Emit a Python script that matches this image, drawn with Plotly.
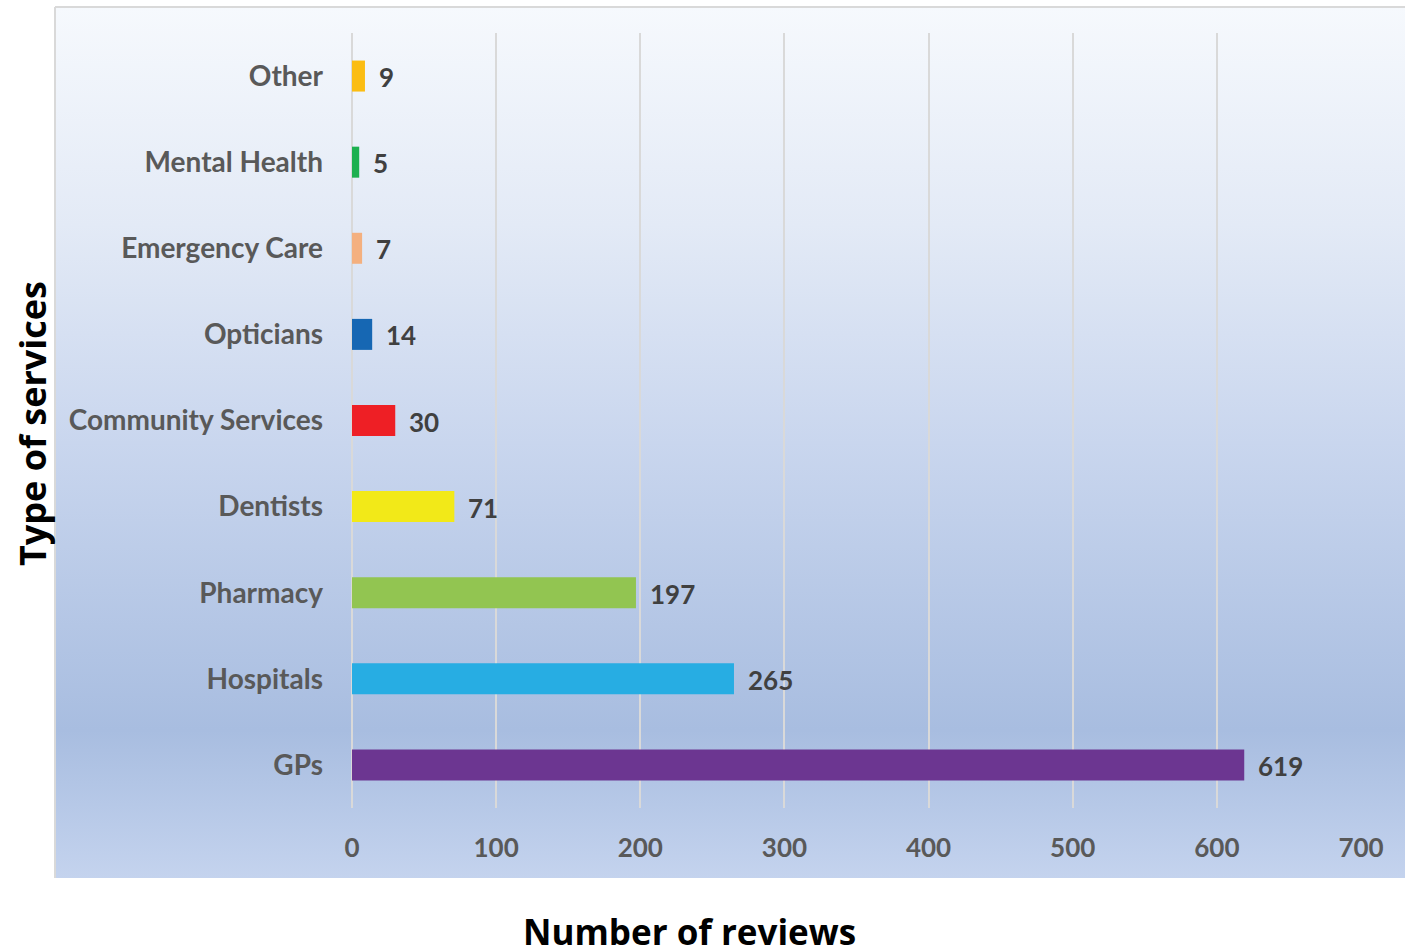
import base64
import plotly.graph_objects as go

# Review counts per type of service (bottom to top)
services = ["GPs", "Hospitals", "Pharmacy", "Dentists", "Community Services",
            "Opticians", "Emergency Care", "Mental Health", "Other"]
reviews = [619, 265, 197, 71, 30, 14, 7, 5, 9]
bar_colors = ["#6c3691", "#27ade3", "#92c551", "#f2e918", "#ee1f25",
              "#1667b3", "#f4b07f", "#1db04f", "#fbbd13"]
x_ticks = [0, 100, 200, 300, 400, 500, 600, 700]

W, H = 1405, 946
# plot area in pixels
L, R, T, B = 352, 1361, 33, 808
pw, ph = R - L, B - T


def px_x(p):
    return (p - L) / pw


def px_y(p):
    return (B - p) / ph


# soft vertical gradient for the chart panel
svg = """<svg xmlns='http://www.w3.org/2000/svg' width='100' height='100' preserveAspectRatio='none'>
<defs><linearGradient id='g' x1='0' y1='0' x2='0' y2='1'>
<stop offset='0' stop-color='#f6f9fd'/>
<stop offset='0.25' stop-color='#e3eaf6'/>
<stop offset='0.5' stop-color='#c9d6ee'/>
<stop offset='0.83' stop-color='#a8bde0'/>
<stop offset='1' stop-color='#c4d3ee'/>
</linearGradient></defs>
<rect width='100' height='100' fill='url(#g)'/></svg>"""
svg_uri = "data:image/svg+xml;base64," + base64.b64encode(svg.encode()).decode()

cat_font = dict(family="Lato", size=28, color="#595959")
num_font = dict(family="Lato", size=26, color="#595959")

fig = go.Figure(go.Bar(
    y=services, x=reviews, orientation="h",
    marker=dict(color=bar_colors, line=dict(width=0)),
    width=0.36, hoverinfo="x+y",
))

annotations = [
    dict(x=v, y=s, xref="x", yref="y", text=f"<b>{v}</b>", showarrow=False,
         xanchor="left", xshift=12, yshift=-1,
         font=dict(family="Lato", size=26, color="#404040"))
    for s, v in zip(services, reviews)
]
annotations += [
    dict(x=px_x(32), y=px_y(424), xref="paper", yref="paper",
         text="<b>Type of services</b>", textangle=-90, showarrow=False,
         xanchor="center", yanchor="middle",
         font=dict(family="Open Sans", size=36, color="#000000")),
    dict(x=px_x(689), y=px_y(931), xref="paper", yref="paper",
         text="<b>Number of reviews</b>", showarrow=False,
         xanchor="center", yanchor="middle",
         font=dict(family="Open Sans", size=35, color="#000000")),
]

fig.update_layout(
    width=W, height=H,
    margin=dict(l=L, r=W - R, t=T, b=H - B, pad=0),
    paper_bgcolor="#ffffff",
    plot_bgcolor="rgba(0,0,0,0)",
    showlegend=False,
    annotations=annotations,
    images=[dict(source=svg_uri, xref="paper", yref="paper",
                 x=px_x(55), y=px_y(7), sizex=px_x(1406) - px_x(55),
                 sizey=px_y(7) - px_y(878), xanchor="left", yanchor="top",
                 sizing="stretch", layer="below")],
    shapes=[
        dict(type="line", xref="paper", yref="paper", x0=px_x(55), x1=px_x(1406),
             y0=px_y(7), y1=px_y(7), line=dict(color="#d9d9d9", width=2)),
        dict(type="line", xref="paper", yref="paper", x0=px_x(55), x1=px_x(55),
             y0=px_y(7), y1=px_y(878), line=dict(color="#d9d9d9", width=2)),
    ],
    xaxis=dict(range=[0, 700], tickvals=x_ticks,
               ticktext=[f"<b>{t}</b>" for t in x_ticks],
               showgrid=True, gridcolor="#d9d9d9", gridwidth=2,
               zeroline=True, zerolinecolor="#d9d9d9", zerolinewidth=2,
               showline=False, ticks="",
               tickfont=num_font, ticklabelstandoff=22),
    yaxis=dict(categoryorder="array", categoryarray=services,
               tickvals=services, ticktext=[f"<b>{s}</b>" for s in services],
               showgrid=False, zeroline=False, showline=False, ticks="",
               tickfont=cat_font, ticklabelstandoff=28),
)

fig.write_html("out.html")
